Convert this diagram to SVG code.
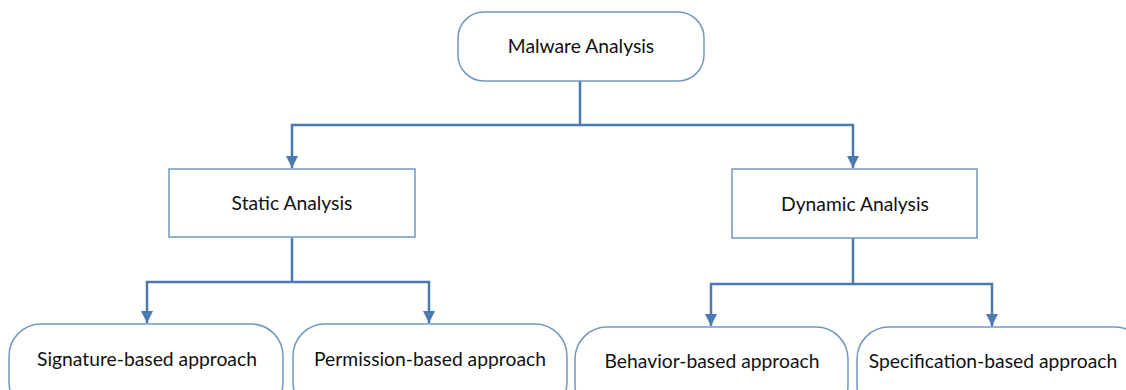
<svg xmlns="http://www.w3.org/2000/svg" width="1126" height="390" viewBox="0 0 1126 390">
  <style>
    .box { fill: #ffffff; stroke: #7396c2; stroke-width: 1.5; }
    .label { font-family: Lato, "Liberation Sans", sans-serif; font-size: 19.3px; fill: #111111; text-anchor: middle; }
    .wire { fill: none; stroke: #4a7ab0; stroke-width: 2.5; }
  </style>
  <defs>
    <marker id="arrow" viewBox="0 0 10 10" refX="10" refY="5" markerWidth="13" markerHeight="12" markerUnits="userSpaceOnUse" orient="auto">
      <path d="M0,0 L10,5 L0,10 z" fill="#4a7ab0"/>
    </marker>
  </defs>

  <rect width="1126" height="390" fill="#ffffff"/>

  <!-- connectors -->
  <g id="connectors">
    <path class="wire" d="M580,81 V125"/>
    <path class="wire" d="M580,125 H292 V168" marker-end="url(#arrow)"/>
    <path class="wire" d="M580,125 H853 V168" marker-end="url(#arrow)"/>
    <path class="wire" d="M292,238 V282"/>
    <path class="wire" d="M292,282 H147 V323" marker-end="url(#arrow)"/>
    <path class="wire" d="M292,282 H429 V323" marker-end="url(#arrow)"/>
    <path class="wire" d="M853,238 V284"/>
    <path class="wire" d="M853,284 H711 V326" marker-end="url(#arrow)"/>
    <path class="wire" d="M853,284 H992 V326" marker-end="url(#arrow)"/>
  </g>

  <!-- root -->
  <g id="malware-analysis">
    <rect class="box" x="458" y="12" width="246" height="69" rx="26" ry="26"/>
    <text class="label" x="581" y="53">Malware Analysis</text>
  </g>

  <!-- second level -->
  <g id="static-analysis">
    <rect class="box" x="169" y="169" width="246" height="68"/>
    <text class="label" x="292" y="210">Static Analysis</text>
  </g>
  <g id="dynamic-analysis">
    <rect class="box" x="732" y="169" width="245" height="69"/>
    <text class="label" x="855" y="211">Dynamic Analysis</text>
  </g>

  <!-- third level -->
  <g id="signature-based">
    <rect class="box" x="9" y="324" width="274" height="90" rx="32" ry="32"/>
    <text class="label" x="147" y="366">Signature-based approach</text>
  </g>
  <g id="permission-based">
    <rect class="box" x="293" y="324" width="274" height="90" rx="32" ry="32"/>
    <text class="label" x="430" y="366">Permission-based approach</text>
  </g>
  <g id="behavior-based">
    <rect class="box" x="575" y="327" width="273" height="90" rx="32" ry="32"/>
    <text class="label" x="712" y="368">Behavior-based approach</text>
  </g>
  <g id="specification-based">
    <rect class="box" x="857" y="327" width="290" height="90" rx="32" ry="32"/>
    <text class="label" x="993" y="368">Specification-based approach</text>
  </g>
</svg>
